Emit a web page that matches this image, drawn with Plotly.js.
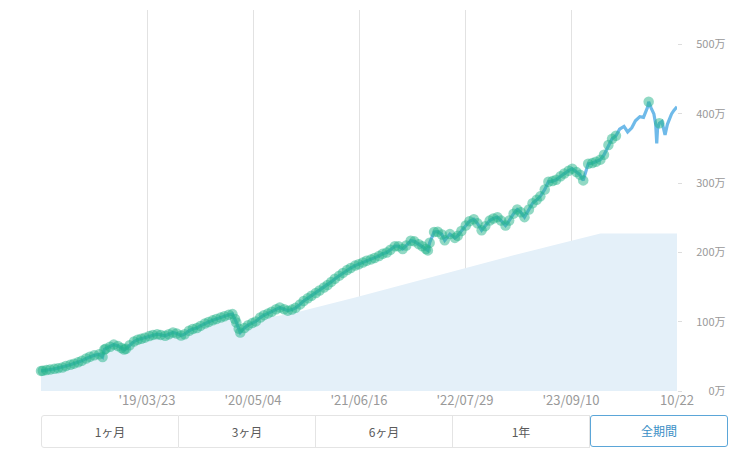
<!DOCTYPE html>
<html>
<head>
<meta charset="utf-8">
<script src="https://cdn.plot.ly/plotly-3.0.1.min.js"></script>
<style>
  body { margin: 0; background: #fff; }
  #wrap { position: relative; width: 752px; height: 475px; }
  #plot { position: absolute; left: 0; top: 0; width: 752px; height: 475px; }
  #periods { position: absolute; left: 41px; top: 415px; display: flex; font-family: "Noto Sans CJK JP", sans-serif; font-size: 12px; }
  #periods div { width: 136px; height: 31px; line-height: 31px; text-align: center; color: #5a5a5a;
    border: 1px solid #e4e4e4; border-left: none; background: #fff; }
  #periods div:first-child { border-left: 1px solid #e4e4e4; border-radius: 3px 0 0 3px; }
  #periods div.on { color: #3b8fc6; border: 1.5px solid #5ba6d8; border-radius: 3px; height: 30px; line-height: 30px; }
</style>
</head>
<body>
<div id="wrap">
  <div id="plot"></div>
  <div id="periods"></div>
</div>
<script>
// valuation (万円), roughly twice a month
let dates = [
  '2018-02-08','2018-02-15','2018-03-01','2018-03-15','2018-04-01','2018-04-15','2018-05-01','2018-05-15',
  '2018-06-01','2018-06-15','2018-07-01','2018-07-15','2018-08-01','2018-08-15','2018-09-01','2018-09-20',
  '2018-10-03','2018-10-10','2018-10-15','2018-11-01','2018-11-15','2018-12-01','2018-12-15','2018-12-25',
  '2019-01-01','2019-01-15','2019-02-01','2019-02-15','2019-03-01','2019-03-15','2019-04-01','2019-04-15',
  '2019-05-01','2019-05-15','2019-06-01','2019-06-15','2019-07-01','2019-07-15','2019-08-01','2019-08-15',
  '2019-09-01','2019-09-15','2019-10-01','2019-10-15','2019-11-01','2019-11-15','2019-12-01','2019-12-15',
  '2020-01-01','2020-01-15','2020-02-01','2020-02-15','2020-02-25','2020-03-01','2020-03-10','2020-03-16',
  '2020-04-01','2020-04-15','2020-05-01','2020-05-15','2020-06-01','2020-06-15','2020-07-01','2020-07-15',
  '2020-08-01','2020-08-15','2020-09-01','2020-09-15','2020-10-01','2020-10-15','2020-11-01','2020-11-15',
  '2020-12-01','2020-12-15','2021-01-01','2021-01-15','2021-02-01','2021-02-15','2021-03-01','2021-03-15',
  '2021-04-01','2021-04-15','2021-05-01','2021-05-15','2021-06-01','2021-06-15','2021-07-01','2021-07-15',
  '2021-08-01','2021-08-15','2021-09-01','2021-09-15','2021-10-01','2021-10-15','2021-11-01','2021-11-15',
  '2021-12-01','2021-12-15','2022-01-01','2022-01-15','2022-02-01','2022-02-15','2022-03-01','2022-03-08',
  '2022-03-15','2022-04-01','2022-04-15','2022-05-01','2022-05-12','2022-06-01','2022-06-20','2022-07-01',
  '2022-07-15','2022-08-01','2022-08-15','2022-09-01','2022-09-15','2022-10-01','2022-10-15','2022-11-01',
  '2022-11-15','2022-12-01','2022-12-15','2023-01-01','2023-01-15','2023-02-01','2023-02-15','2023-03-01',
  '2023-03-15','2023-04-01','2023-04-15','2023-05-01','2023-05-15','2023-06-01','2023-06-15','2023-07-01',
  '2023-07-15','2023-08-01','2023-08-15','2023-09-01','2023-09-15','2023-10-01','2023-10-15','2023-10-27',
  '2023-11-15','2023-12-01','2023-12-15','2024-01-01','2024-01-15','2024-02-01','2024-02-15','2024-03-01',
  '2024-03-15','2024-04-01','2024-04-15','2024-05-01','2024-05-15','2024-06-01','2024-06-15','2024-07-01',
  '2024-07-05','2024-07-15','2024-07-25','2024-08-01','2024-08-05','2024-08-08','2024-08-15','2024-08-25',
  '2024-09-06','2024-09-15','2024-09-25','2024-10-01','2024-10-10','2024-10-22'
]
let values = [
  29, 29.2, 30.4, 31, 32, 33, 34, 36,
  38, 39.5, 41.5, 43.5, 47, 49.5, 51.5, 53,
  49, 60, 61, 64, 67, 65, 62, 60,
  61, 66, 71.5, 74, 75.5, 77, 79.5, 81,
  82, 81, 79.7, 82, 84.5, 83, 80, 82,
  87, 89.5, 91, 94, 97.5, 99.5, 102, 104,
  106, 108, 110, 111, 104, 99, 90, 84.5,
  91, 95, 98, 100.5, 106, 109.5, 112, 114.5,
  118, 120.5, 118, 116, 117.5, 120, 125, 130,
  134, 137.5, 141.5, 145, 149.5, 153, 157.5, 162,
  166.5, 170.5, 174.5, 177.5, 181, 183, 185.5, 188,
  190, 192, 195, 198, 200, 204, 209, 209,
  205, 210, 217, 216, 212, 209, 205, 203,
  214, 229.5, 230, 226, 217.5, 226.5, 221, 224,
  231, 239, 245, 248, 242, 232, 238, 246,
  249, 251, 246, 239, 246, 256, 262, 258,
  251, 262, 271, 276, 281, 291, 302, 303,
  305, 310, 314, 318, 321, 316, 312, 304,
  328, 329, 331, 334, 341, 355, 364, 368.5,
  378, 382, 374, 380, 390, 396, 395, 410,
  417.5, 408, 400, 385, 357.5, 378, 386.5, 389,
  369.6, 385, 396, 400, 405, 410.5
]

// principal (万円)
let principalDates = [
  '2018-02-08','2018-05-01','2018-08-01','2018-09-20','2018-10-03','2018-10-10','2018-11-15','2018-12-25',
  '2019-02-01','2019-04-15','2019-06-01','2019-07-01','2019-08-01','2019-10-01','2019-12-01','2020-02-15',
  '2020-03-16','2020-05-01','2020-07-01','2020-10-01','2021-06-01','2023-02-01','2024-01-01','2024-10-22'
]
let principal = [
  27, 32, 45, 51, 47, 57, 64, 58,
  69, 78, 77, 82, 78, 89, 99, 108,
  82, 95, 106, 112, 135, 196, 227.5, 227.5
]

// points that carry a dot after the dense part ends
let dotCutoff = '2024-03-10'
let extraDots = ['2024-07-05', '2024-08-15']

let tickDates = ['2019-03-23', '2020-05-04', '2021-06-16', '2022-07-29', '2023-09-10', '2024-10-22']
let tickLabels = ["'19/03/23", "'20/05/04", "'21/06/16", "'22/07/29", "'23/09/10", '10/22']
let yTicks = [0, 100, 200, 300, 400, 500]
let yLabels = ['\u2007\u20070万', '100万', '200万', '300万', '400万', '500万']

let periods = ['1ヶ月', '3ヶ月', '6ヶ月', '1年', '全期間']

let dotX = []
let dotY = []
for (let i = 0; i < dates.length; i++) {
  if (dates[i] <= dotCutoff || extraDots.includes(dates[i])) {
    dotX.push(dates[i])
    dotY.push(values[i])
  }
}

let fillTrace = {
  x: principalDates,
  y: principal,
  type: 'scatter',
  mode: 'lines',
  fill: 'tozeroy',
  fillcolor: '#e4f0f9',
  line: { width: 0, color: '#e4f0f9' },
  hoverinfo: 'skip'
}

let lineTrace = {
  x: dates,
  y: values,
  type: 'scatter',
  mode: 'lines',
  line: { color: '#6fbae9', width: 3.2 },
  hoverinfo: 'skip'
}

let dotTrace = {
  x: dotX,
  y: dotY,
  type: 'scatter',
  mode: 'markers',
  marker: { color: 'rgba(36,180,138,0.5)', size: 10.5 },
  cliponaxis: false,
  hoverinfo: 'skip'
}

let layout = {
  width: 752,
  height: 475,
  margin: { l: 41, r: 75, t: 10, b: 84 },
  paper_bgcolor: '#fff',
  plot_bgcolor: '#fff',
  showlegend: false,
  font: { family: '"Noto Sans CJK JP", sans-serif' },
  xaxis: {
    type: 'date',
    range: ['2018-02-08', '2024-10-22'],
    tickvals: tickDates,
    ticktext: tickLabels,
    showgrid: true,
    gridcolor: '#e2e2e2',
    gridwidth: 1,
    zeroline: false,
    showline: false,
    ticks: '',
    tickfont: { size: 13, color: '#999' }
  },
  yaxis: {
    side: 'right',
    range: [0, 550],
    tickvals: yTicks,
    ticktext: yLabels,
    showgrid: false,
    zeroline: false,
    showline: false,
    ticks: 'outside',
    ticklen: 4,
    tickcolor: '#ddd',
    ticklabelstandoff: 12,
    tickfont: { size: 11, color: '#999' }
  }
}

Plotly.newPlot('plot', [fillTrace, lineTrace, dotTrace], layout, { staticPlot: true })

let bar = document.getElementById('periods')
for (let i = 0; i < periods.length; i++) {
  let b = document.createElement('div')
  b.textContent = periods[i]
  if (i == periods.length - 1) b.className = 'on'
  bar.appendChild(b)
}
</script>
</body>
</html>
